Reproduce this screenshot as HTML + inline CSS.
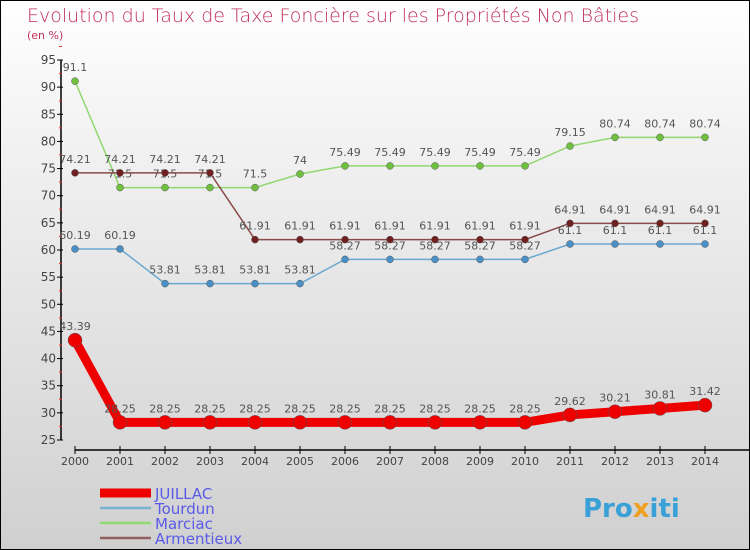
<!DOCTYPE html>
<html><head><meta charset="utf-8"><style>
html,body{margin:0;padding:0}
body{width:750px;height:550px;overflow:hidden;font-family:"DejaVu Sans","Liberation Sans",sans-serif}
#wrap{position:absolute;left:0;top:0;width:748px;height:548px;border:1px solid #000;background:linear-gradient(#ffffff,#f2f2f2 25%,#d0d0d0)}
</style></head><body>
<div id="wrap">
<svg id="chart" width="750" height="550" style="position:absolute;left:-1px;top:-1px">
<text x="27" y="22" font-size="19" fill="#c0305a" font-family="DejaVu Sans, sans-serif" font-weight="200">Evolution du Taux de Taxe Foncière sur les Propriétés Non Bâties</text>
<text x="27" y="39" font-size="11" fill="#c0305a">(en %)</text>
<g id="axes"></g><g id="series"></g><g id="legend"></g>
<text x="583" y="517" font-size="26" font-weight="bold" fill="#3aa0d8">Pro<tspan fill="#f0a020">x</tspan>iti</text>
</svg>
</div>
<script>
const years=[2000,2001,2002,2003,2004,2005,2006,2007,2008,2009,2010,2011,2012,2013,2014];
const juillac=[43.39,28.25,28.25,28.25,28.25,28.25,28.25,28.25,28.25,28.25,28.25,29.62,30.21,30.81,31.42];
const tourdun=[60.19,60.19,53.81,53.81,53.81,53.81,58.27,58.27,58.27,58.27,58.27,61.1,61.1,61.1,61.1];
const marciac=[91.1,71.5,71.5,71.5,71.5,74,75.49,75.49,75.49,75.49,75.49,79.15,80.74,80.74,80.74];
const armentieux=[74.21,74.21,74.21,74.21,61.91,61.91,61.91,61.91,61.91,61.91,61.91,64.91,64.91,64.91,64.91];
const yTicks=[25,30,35,40,45,50,55,60,65,70,75,80,85,90,95];
const NS='http://www.w3.org/2000/svg';
const xS=i=>75+i*45;
const yS=v=>440-(v-25)*(380/70);
function mk(p,t,a,txt){const e=document.createElementNS(NS,t);for(const k in a)e.setAttribute(k,a[k]);if(txt!==undefined)e.textContent=txt;p.appendChild(e);return e;}
const ax=document.getElementById('axes');
let l=mk(ax,'line',{x1:61,y1:yS(95),x2:61,y2:yS(25),stroke:'#000','stroke-width':1.5});


yTicks.forEach(v=>{
  mk(ax,'line',{x1:57,y1:yS(v),x2:63,y2:yS(v),stroke:'#000'});
  mk(ax,'line',{x1:59,y1:yS(v+2.5),x2:62,y2:yS(v+2.5),stroke:'#e03030'});
  const t=mk(ax,'text',{x:56,y:yS(v)+4,'font-size':12,'text-anchor':'end',fill:'#444'},v);
  
  
});
l=mk(ax,'line',{x1:75,y1:450,x2:750,y2:450,stroke:'#000','stroke-width':1.5});


years.forEach((y,i)=>{
  mk(ax,'line',{x1:xS(i),y1:446,x2:xS(i),y2:454,stroke:'#000'});
  const t=mk(ax,'text',{x:xS(i),y:465,'font-size':11,'text-anchor':'middle',fill:'#444'},y);
  
  
});
const sg=document.getElementById('series');
function draw(name,vals,color,dot,w,r){
  const g=mk(sg,'g',{});
  
  
  mk(g,'polyline',{points:vals.map((v,i)=>xS(i)+','+yS(v)).join(' '),fill:'none',stroke:color,'stroke-width':w});
  vals.forEach((v,i)=>{
    const c=mk(g,'circle',{cx:xS(i),cy:yS(v),r:r,fill:dot,stroke:'#555','stroke-width':0.5});
    
    
    const t=mk(g,'text',{x:xS(i),y:yS(v)-10,'font-size':11,'text-anchor':'middle',fill:'#555'},String(v));
    
    
  });
}
draw('marciac',marciac,'#90d870','#70c040',1.5,3.5);
draw('armentieux',armentieux,'#8a4a4a','#702020',1.5,3.5);
draw('tourdun',tourdun,'#6aa8d0','#4a90c8',1.5,3.5);
draw('juillac',juillac,'#ee0000','#ee0000',9,7);
const lg=document.getElementById('legend');
[['JUILLAC','#ee0000',9],['Tourdun','#7ab0d0',2.5],['Marciac','#90d870',2.5],['Armentieux','#906060',2.5]].forEach((d,i)=>{
  const g=mk(lg,'g',{});
  
  
  const y=493+i*15;
  mk(g,'line',{x1:100,y1:y,x2:151,y2:y,stroke:d[1],'stroke-width':d[2]});
  mk(g,'text',{x:155,y:y+6,'font-size':15,fill:'#5a5ae8'},d[0]);
});
</script>
</body></html>
